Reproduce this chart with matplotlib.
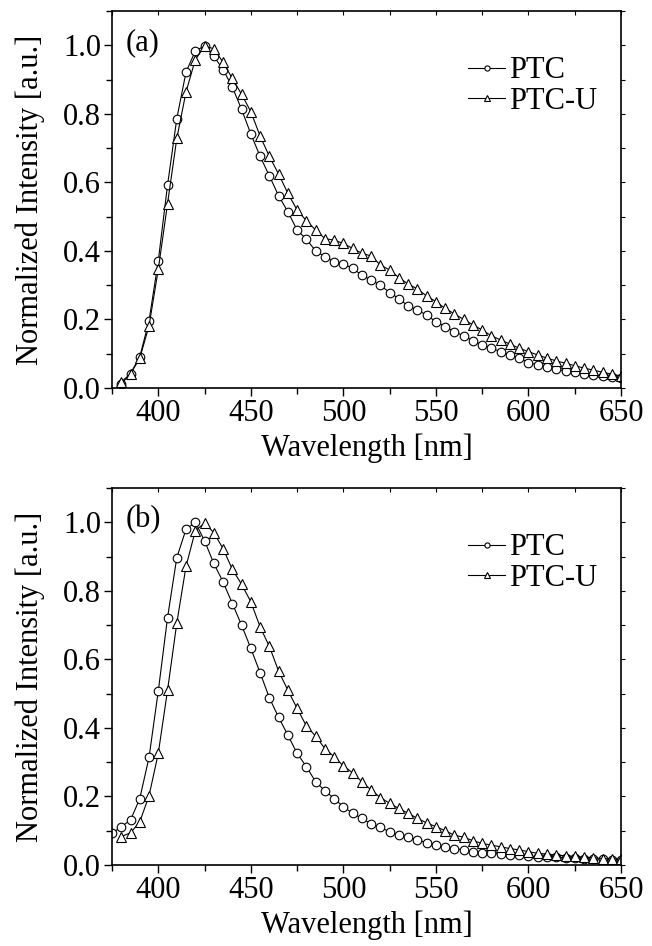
import matplotlib
matplotlib.use("Agg")
import matplotlib.pyplot as plt
from matplotlib.ticker import MultipleLocator, NullFormatter

plt.rcParams['font.family'] = ['Liberation Serif', 'DejaVu Serif']
plt.rcParams['mathtext.fontset'] = 'stix'

# panel (a) data, 380-650 nm in 5 nm steps
wl_a = [380, 385, 390, 395, 400, 405, 410, 415, 420, 425, 430, 435, 440, 445,
        450, 455, 460, 465, 470, 475, 480, 485, 490, 495, 500, 505, 510, 515,
        520, 525, 530, 535, 540, 545, 550, 555, 560, 565, 570, 575, 580, 585,
        590, 595, 600, 605, 610, 615, 620, 625, 630, 635, 640, 645, 650]
ptc_a = [0.012, 0.042, 0.091, 0.196, 0.371, 0.592, 0.786, 0.922, 0.983, 0.998,
         0.968, 0.929, 0.878, 0.813, 0.741, 0.676, 0.619, 0.561, 0.514, 0.461,
         0.434, 0.400, 0.383, 0.368, 0.362, 0.349, 0.329, 0.315, 0.300, 0.278,
         0.261, 0.239, 0.227, 0.213, 0.193, 0.179, 0.164, 0.152, 0.138, 0.125,
         0.116, 0.106, 0.096, 0.087, 0.074, 0.067, 0.062, 0.054, 0.050, 0.046,
         0.042, 0.038, 0.035, 0.032, 0.028]
ptcu_a = [0.018, 0.041, 0.087, 0.181, 0.346, 0.538, 0.728, 0.864, 0.958, 0.997,
          0.990, 0.950, 0.903, 0.857, 0.806, 0.735, 0.676, 0.624, 0.568, 0.519,
          0.488, 0.461, 0.436, 0.431, 0.422, 0.407, 0.393, 0.385, 0.359, 0.344,
          0.322, 0.303, 0.289, 0.268, 0.252, 0.232, 0.216, 0.200, 0.184, 0.169,
          0.152, 0.140, 0.128, 0.116, 0.106, 0.096, 0.087, 0.079, 0.072, 0.065,
          0.058, 0.052, 0.046, 0.040, 0.035]

# panel (b) data
wl_b_ptc = [375, 380, 385, 390, 395, 400, 405, 410, 415, 420, 425, 430, 435,
            440, 445, 450, 455, 460, 465, 470, 475, 480, 485, 490, 495, 500,
            505, 510, 515, 520, 525, 530, 535, 540, 545, 550, 555, 560, 565,
            570, 575, 580, 585, 590, 595, 600, 605, 610, 615, 620, 625, 630,
            635, 640, 645, 650]
ptc_b = [0.092, 0.112, 0.131, 0.194, 0.314, 0.508, 0.722, 0.897, 0.980, 1.000,
         0.946, 0.880, 0.826, 0.763, 0.700, 0.632, 0.561, 0.488, 0.431, 0.379,
         0.326, 0.287, 0.243, 0.217, 0.194, 0.170, 0.151, 0.136, 0.120, 0.110,
         0.097, 0.087, 0.081, 0.073, 0.065, 0.058, 0.053, 0.048, 0.044, 0.039,
         0.036, 0.034, 0.032, 0.029, 0.028, 0.026, 0.024, 0.022, 0.022, 0.021,
         0.020, 0.019, 0.018, 0.017, 0.016, 0.015]
wl_b_ptcu = wl_a
ptcu_b = [0.083, 0.094, 0.126, 0.202, 0.326, 0.510, 0.706, 0.872, 0.975, 0.998,
          0.970, 0.923, 0.863, 0.819, 0.768, 0.695, 0.638, 0.566, 0.510, 0.457,
          0.406, 0.376, 0.340, 0.316, 0.289, 0.269, 0.243, 0.219, 0.197, 0.180,
          0.165, 0.151, 0.136, 0.123, 0.112, 0.100, 0.087, 0.081, 0.071, 0.063,
          0.058, 0.053, 0.048, 0.044, 0.039, 0.034, 0.032, 0.029, 0.027, 0.025,
          0.023, 0.021, 0.019, 0.018, 0.017]

panels = [
    ("(a)", wl_a, ptc_a, wl_a, ptcu_a),
    ("(b)", wl_b_ptc, ptc_b, wl_b_ptcu, ptcu_b),
]

fig = plt.figure(figsize=(6.52, 9.46), dpi=100)
rects = [[0.1718, 0.5899, 0.7807, 0.3985], [0.1718, 0.0856, 0.7807, 0.3985]]

fs = 22
for rect, (tag, x1, y1, x2, y2) in zip(rects, panels):
    ax = fig.add_axes(rect)
    ax.plot(x1, y1, color="black", lw=0.8, marker="o", ms=6.2, mfc="white",
            mec="black", mew=0.8, label="PTC")
    ax.plot(x2, y2, color="black", lw=0.8, marker="^", ms=7, mfc="white",
            mec="black", mew=0.8, label="PTC-U")
    ax.set_xlim(375, 650)
    ax.set_ylim(0, 1.1)
    ax.xaxis.set_major_locator(MultipleLocator(50))
    ax.xaxis.set_minor_locator(MultipleLocator(25))
    ax.yaxis.set_major_locator(MultipleLocator(0.2))
    ax.yaxis.set_minor_locator(MultipleLocator(0.1))
    ax.set_yticks([0, 0.2, 0.4, 0.6, 0.8, 1.0])
    ax.set_yticklabels(["0.0", "0.2", "0.4", "0.6", "0.8", "1.0"])
    ax.tick_params(which="major", direction="out", length=6, width=1,
                   labelsize=fs, pad=2)
    ax.tick_params(which="minor", direction="out", length=4, width=1)
    for s in ax.spines.values():
        s.set_linewidth(1.2)

    # short ticks on the top and right frame, no labels
    top = ax.secondary_xaxis("top")
    top.xaxis.set_major_locator(MultipleLocator(25))
    top.xaxis.set_major_formatter(NullFormatter())
    top.tick_params(direction="in", length=3, width=0.8)
    right = ax.secondary_yaxis("right")
    right.yaxis.set_major_locator(MultipleLocator(0.1))
    right.yaxis.set_major_formatter(NullFormatter())
    right.tick_params(direction="out", length=3, width=0.8)
    top.spines["top"].set_visible(False)
    right.spines["right"].set_visible(False)

    ax.set_xlabel("Wavelength [nm]", fontsize=fs, labelpad=4)
    ax.set_ylabel("Normalized Intensity [a.u.]", fontsize=fs, labelpad=13)
    ax.text(0.026, 0.955, tag, transform=ax.transAxes, fontsize=fs,
            ha="left", va="top")
    leg = ax.legend(loc="upper left", bbox_to_anchor=(0.70, 0.88),
                    frameon=False, fontsize=fs, handlelength=1.2,
                    handletextpad=0.12, labelspacing=0.05, markerscale=0.6,
                    borderpad=0, borderaxespad=0)

fig.savefig("out.png", dpi=100)
